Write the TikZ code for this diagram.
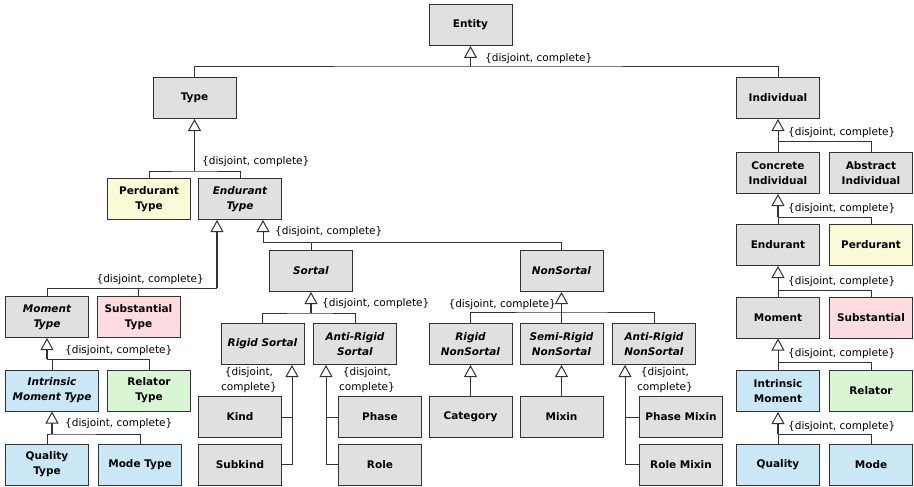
\documentclass[tikz,border=0pt]{standalone}
\usepackage{fontspec}
\setmainfont{DejaVu Sans}
\usetikzlibrary{arrows.meta,calc}
\definecolor{boxgray}{HTML}{E0E0E0}
\definecolor{boxyellow}{HTML}{FAFAD6}
\definecolor{boxpink}{HTML}{FCDCE1}
\definecolor{boxblue}{HTML}{C9E7F5}
\definecolor{boxgreen}{HTML}{D8F6D2}
\definecolor{linecol}{HTML}{333333}
\begin{document}
\begin{tikzpicture}[x=1pt,y=-1pt,
  cls/.style={draw=linecol, line width=1pt, fill=boxgray, minimum width=83pt, minimum height=41pt, inner sep=1pt, align=center, font=\bfseries\fontsize{10.5}{15}\selectfont},
  abs/.style={cls, font=\bfseries\itshape\fontsize{10.5}{15}\selectfont},
  gen/.style={draw=linecol, line width=0.9pt, -{Triangle[open, length=12pt, width=13pt, line width=1pt]}},
  genthick/.style={gen, line width=2pt},
  conn/.style={draw=linecol, line width=0.9pt},
  lbl/.style={font=\fontsize{10.5}{15}\selectfont, inner sep=0pt, align=center}
]
\useasboundingbox (0,0) rectangle (914,487);

% nodes
\node[cls] (entity) at (470.5,25) {Entity};
\node[cls] (type) at (194.5,98) {Type};
\node[cls] (indiv) at (778,98) {Individual};
\node[cls, fill=boxyellow] (pertype) at (149,199) {Perdurant\\Type};
\node[abs] (endtype) at (240,199) {Endurant\\Type};
\node[cls] (concrete) at (778,173) {Concrete\\Individual};
\node[cls] (abstract) at (871,173) {Abstract\\Individual};
\node[cls] (endurant) at (778,245) {Endurant};
\node[cls, fill=boxyellow] (perdurant) at (871,245) {Perdurant};
\node[abs] (sortal) at (311,271) {Sortal};
\node[abs] (nonsortal) at (561.5,271) {NonSortal};
\node[abs] (momtype) at (47,317) {Moment\\Type};
\node[cls, fill=boxpink] (subtype) at (138.5,317) {Substantial\\Type};
\node[cls] (moment) at (778,317.5) {Moment};
\node[cls, fill=boxpink] (substantial) at (871,317.5) {Substantial};
\node[abs] (rigsortal) at (262.5,344) {Rigid Sortal};
\node[abs] (antisortal) at (355,344) {Anti-Rigid\\Sortal};
\node[abs] (rignon) at (470.5,344) {Rigid\\NonSortal};
\node[abs] (seminon) at (561.5,344) {Semi-Rigid\\NonSortal};
\node[abs] (antinon) at (654,344) {Anti-Rigid\\NonSortal};
\node[abs, fill=boxblue, minimum width=93pt] (imtype) at (52,390.5) {Intrinsic\\Moment Type};
\node[cls, fill=boxgreen] (reltype) at (149,390.5) {Relator\\Type};
\node[cls, fill=boxblue] (intmom) at (778,391) {Intrinsic\\Moment};
\node[cls, fill=boxgreen] (relator) at (871,391) {Relator};
\node[cls] (kind) at (240,417) {Kind};
\node[cls] (phase) at (380,417) {Phase};
\node[cls] (category) at (470.5,417) {Category};
\node[cls] (mixin) at (561.5,417) {Mixin};
\node[cls] (phasemixin) at (681,417) {Phase Mixin};
\node[cls, fill=boxblue] (qualtype) at (47,464.5) {Quality\\Type};
\node[cls, fill=boxblue] (modetype) at (140,464.5) {Mode Type};
\node[cls] (subkind) at (240,464.5) {Subkind};
\node[cls] (role) at (380,464.5) {Role};
\node[cls] (rolemixin) at (681,464.5) {Role Mixin};
\node[cls, fill=boxblue] (quality) at (778,464.5) {Quality};
\node[cls, fill=boxblue] (mode) at (871,464.5) {Mode};

% Entity
\coordinate (b1) at (470.5,66);
\draw[gen] (b1) -- (entity.south);
\draw[conn] (type.north) |- (b1) -| (indiv.north);
\node[lbl, anchor=west] (l1) at (485,59) {\{disjoint, complete\}};

% Type
\coordinate (b2) at (194.5,171);
\draw[gen] (b2) -- (type.south);
\draw[conn] (pertype.north) |- (b2) -| (endtype.north);
\node[lbl, anchor=west] (l2) at (202,162) {\{disjoint, complete\}};

% Endurant Type -> Moment Type / Substantial Type
\coordinate (b3) at (217,288);
\draw[genthick] (b3) -- (endtype.south -| b3);
\draw[conn] (momtype.north) |- (b3);
\draw[conn] (subtype.north) -- (subtype.north |- b3);
\node[lbl, anchor=east] (l3) at (204,280) {\{disjoint, complete\}};

% Endurant Type -> Sortal / NonSortal
\coordinate (b4) at (263,242);
\draw[gen] (b4) -- (endtype.south -| b4);
\draw[conn] (sortal.north) |- (b4);
\draw[conn] (nonsortal.north) |- (b4);
\node[lbl, anchor=west] (l4) at (275,232) {\{disjoint, complete\}};

% Sortal
\coordinate (b5) at (311,313);
\draw[genthick] (b5) -- (sortal.south);
\draw[conn] (rigsortal.north) |- (b5) -| (antisortal.north);
\node[lbl, anchor=west] (l5) at (322,304) {\{disjoint, complete\}};

% NonSortal
\coordinate (b6) at (561.5,312);
\draw[gen] (b6) -- (nonsortal.south);
\draw[conn] (rignon.north) |- (b6) -| (antinon.north);
\draw[conn] (seminon.north) -- (b6);
\node[lbl, anchor=east] (l6) at (556,305) {\{disjoint, complete\}};

% Moment Type
\coordinate (b7) at (47,359);
\draw[genthick] (b7) -- (momtype.south);
\draw[conn] (imtype.north) |- (b7);
\draw[conn] (b7) -| (reltype.north);
\node[lbl, anchor=west] (l7) at (65,351) {\{disjoint, complete\}};

% Intrinsic Moment Type
\coordinate (b8) at (52,434);
\draw[genthick] (b8) -- (imtype.south);
\draw[conn] (qualtype.north) |- (b8) -| (modetype.north);
\node[lbl, anchor=west] (l8) at (65,424) {\{disjoint, complete\}};

% Rigid Sortal
\coordinate (rsx) at (292,400);
\draw[gen] (subkind.east) -| (rigsortal.south -| rsx);
\draw[conn] (kind.east) -- (kind.east -| rsx);
\node[lbl] (l9) at (249,380.5) {\{disjoint,\\complete\}};

% Anti-Rigid Sortal
\coordinate (asx) at (326,400);
\draw[gen] (role.west) -| (antisortal.south -| asx);
\draw[conn] (phase.west) -- (phase.west -| asx);
\node[lbl] (l10) at (367,380.5) {\{disjoint,\\complete\}};

% Rigid / Semi-Rigid NonSortal
\draw[gen] (category.north) -- (rignon.south);
\draw[gen] (mixin.north) -- (seminon.south);

% Anti-Rigid NonSortal
\coordinate (anx) at (625,400);
\draw[gen] (rolemixin.west) -| (antinon.south -| anx);
\draw[conn] (phasemixin.west) -- (phasemixin.west -| anx);
\node[lbl] (l11) at (665,380.5) {\{disjoint,\\complete\}};

% Right column
\coordinate (b10) at (778,141);
\draw[gen] (b10) -- (indiv.south);
\draw[conn] (concrete.north) |- (b10) -| (abstract.north);
\node[lbl, anchor=west] (l12) at (788,133) {\{disjoint, complete\}};

\coordinate (b11) at (778,217);
\draw[genthick] (b11) -- (concrete.south);
\draw[conn] (endurant.north) |- (b11) -| (perdurant.north);
\node[lbl, anchor=west] (l13) at (788,209) {\{disjoint, complete\}};

\coordinate (b12) at (778,290);
\draw[gen] (b12) -- (endurant.south);
\draw[conn] (moment.north) |- (b12) -| (substantial.north);
\node[lbl, anchor=west] (l14) at (788,282) {\{disjoint, complete\}};

\coordinate (b13) at (778,362);
\draw[gen] (b13) -- (moment.south);
\draw[conn] (intmom.north) |- (b13) -| (relator.north);
\node[lbl, anchor=west] (l15) at (788,354) {\{disjoint, complete\}};

\coordinate (b14) at (778,434);
\draw[genthick] (b14) -- (intmom.south);
\draw[conn] (quality.north) |- (b14) -| (mode.north);
\node[lbl, anchor=west] (l16) at (788,427) {\{disjoint, complete\}};
\end{tikzpicture}
\end{document}
